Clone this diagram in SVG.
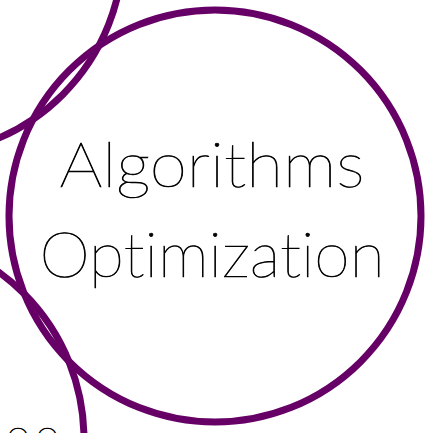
<svg xmlns="http://www.w3.org/2000/svg" width="425" height="433" viewBox="0 0 425 433">
<style>
.c{fill:none;stroke:#660066;stroke-width:7}
.t{font-family:Lato,"Open Sans","Liberation Sans",sans-serif;font-weight:200;fill:#000;stroke:#000;stroke-width:0.7;font-variant-ligatures:none;font-feature-settings:"liga" 0,"dlig" 0}
</style>
<rect width="425" height="433" fill="#fff"/>
<g id="node-topleft"><circle class="c" cx="-83" cy="-51" r="206"/></g>
<g id="node-bottomleft"><circle class="c" cx="-122" cy="439" r="206"/>
<text class="t" x="6" y="450" font-size="44" letter-spacing="5">oo</text></g>
<g id="node-main"><circle class="c" cx="215" cy="216" r="206"/>
<text class="t" x="212" y="187" font-size="61" text-anchor="middle" textLength="305" lengthAdjust="spacingAndGlyphs">Algorithms</text>
<text class="t" x="212" y="277" font-size="61" text-anchor="middle" textLength="345" lengthAdjust="spacingAndGlyphs">Optimization</text></g>
<g id="connectors"></g>
</svg>
